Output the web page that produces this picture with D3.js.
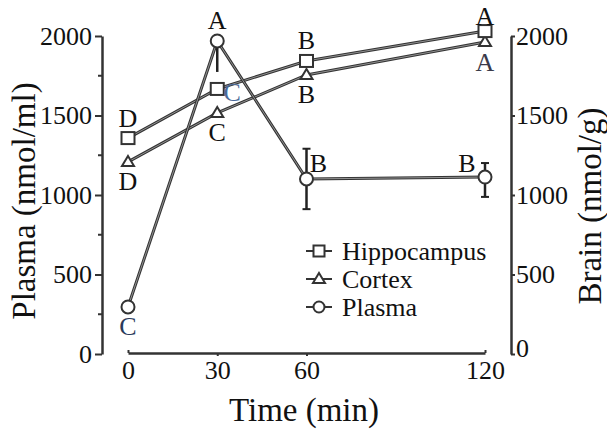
<!DOCTYPE html>
<html><head><meta charset="utf-8">
<script src="https://cdn.jsdelivr.net/npm/d3@7"></script>
<style>html,body{margin:0;padding:0;background:#fff}</style>
</head><body>
<svg id="c" width="607" height="432"></svg>
<script>
const times = [0, 30, 60, 120];
const xTicks = [0, 30, 60, 120];
const yTicks = [0, 500, 1000, 1500, 2000];
const yMinorTicks = [250, 750, 1250, 1750];
const hippocampus = [1358, 1667, 1843, 2031];
const cortex = [1208, 1516, 1755, 1962];
const plasma = [296, 1969, 1101, 1113];
const plasmaErrLow = [0, 195, 190, 125];
const plasmaErrHigh = [0, 0, 190, 88];
const hippoLetters = ["D", "C", "B", "A"];
const cortexLetters = ["D", "C", "B", "A"];
const plasmaLetters = ["C", "A", "B", "B"];
const hippoPlace = ["above", "right", "above", "aboveTight"];
const cortexPlace = ["below", "below", "below", "below"];
const plasmaPlace = ["below", "above", "upright", "upleft"];
const legendNames = ["Hippocampus", "Cortex", "Plasma"];

const FONT = '"Liberation Serif"';
const ink = "#222";
const svg = d3.select("#c");
const x = d3.scaleLinear().domain([0, 120]).range([128, 485]);
const yL = d3.scaleLinear().domain([0, 2000]).range([354, 36]);
const yR = d3.scaleLinear().domain([0, 2000]).range([354, 36]);
const fmt = d3.format("d");

// Left axis
const gL = svg.append("g").attr("transform", "translate(102,0)")
  .call(d3.axisLeft(yL).tickValues(yTicks).tickFormat(fmt).tickSize(7).tickSizeOuter(0).tickPadding(3));
gL.append("g").selectAll("line").data(yMinorTicks).join("line")
  .attr("x1", 0).attr("x2", -4).attr("y1", d => yL(d)).attr("y2", d => yL(d));
// Right axis
const gR = svg.append("g").attr("transform", "translate(511,0)")
  .call(d3.axisRight(yR).tickValues(yTicks).tickFormat(fmt).tickSize(4).tickSizeOuter(0).tickPadding(1));
// Bottom axis
const gB = svg.append("g").attr("transform", "translate(0,353)")
  .call(d3.axisBottom(x).tickValues(xTicks).tickFormat(fmt).tickSize(3).tickSizeOuter(0).tickPadding(5));
gB.selectAll(".tick line").attr("y2", d => (d === 0 || d === 120) ? -3 : 3);

[gL, gR, gB].forEach(g => {
  g.attr("font-family", null).attr("font-size", null);
  g.select(".domain").attr("stroke", "#333").attr("stroke-width", 2.5);
  g.selectAll("line").attr("stroke", "#333").attr("stroke-width", 2);
  g.selectAll("text").style("font-family", FONT).attr("font-size", 26).attr("fill", "#111");
});
gR.selectAll(".tick").filter(d => d === 0).select("text").attr("dy", "0.1em");

// Titles
svg.append("text").attr("transform", "translate(35,201) rotate(-90)")
  .attr("text-anchor", "middle").style("font-family", FONT).attr("font-size", 33).attr("fill", "#111")
  .text("Plasma (nmol/ml)");
svg.append("text").attr("transform", "translate(601,206) rotate(-90)")
  .attr("text-anchor", "middle").style("font-family", FONT).attr("font-size", 33).attr("fill", "#111")
  .text("Brain (nmol/g)");
svg.append("text").attr("x", 304).attr("y", 421)
  .attr("text-anchor", "middle").style("font-family", FONT).attr("font-size", 33).attr("fill", "#111")
  .text("Time (min)");

function drawLine(vals, scale) {
  const pts = times.map((t, i) => [x(t), scale(vals[i])]);
  const lg = d3.line();
  svg.append("path").attr("d", lg(pts)).attr("fill", "none").attr("stroke", "#333").attr("stroke-width", 3);
  svg.append("path").attr("d", lg(pts)).attr("fill", "none").attr("stroke", "#aaa").attr("stroke-width", 0.8);
}
drawLine(hippocampus, yR);
drawLine(cortex, yR);
drawLine(plasma, yL);

// Plasma error bars
times.forEach((t, i) => {
  const cx = x(t);
  const lo = plasma[i] - plasmaErrLow[i], hi = plasma[i] + plasmaErrHigh[i];
  if (plasmaErrLow[i] > 0) {
    svg.append("line").attr("x1", cx).attr("x2", cx).attr("y1", yL(plasma[i])).attr("y2", yL(lo)).attr("stroke", ink).attr("stroke-width", 2.5);
    if (plasmaErrHigh[i] > 0)
      svg.append("line").attr("x1", cx - 4).attr("x2", cx + 4).attr("y1", yL(lo)).attr("y2", yL(lo)).attr("stroke", ink).attr("stroke-width", 2);
  }
  if (plasmaErrHigh[i] > 0) {
    svg.append("line").attr("x1", cx).attr("x2", cx).attr("y1", yL(plasma[i])).attr("y2", yL(hi)).attr("stroke", ink).attr("stroke-width", 2.5);
    svg.append("line").attr("x1", cx - 4).attr("x2", cx + 4).attr("y1", yL(hi)).attr("y2", yL(hi)).attr("stroke", ink).attr("stroke-width", 2);
  }
});

const sym = {
  Hippocampus: (g) => g.append("rect").attr("x", -6.5).attr("y", -6).attr("width", 13).attr("height", 12),
  Cortex: (g) => g.append("path").attr("d", "M0,-6 L6,4 L-6,4 Z"),
  Plasma: (g) => g.append("circle").attr("r", 6.5)
};
function drawMarkers(vals, scale, name) {
  times.forEach((t, i) => {
    const g = svg.append("g").attr("transform", `translate(${x(t)},${scale(vals[i])})`);
    sym[name](g).attr("fill", "#fff").attr("stroke", "#333").attr("stroke-width", 2);
  });
}
drawMarkers(plasma, yL, "Plasma");
drawMarkers(cortex, yR, "Cortex");
drawMarkers(hippocampus, yR, "Hippocampus");

const offs = {above: [0, -20], aboveTight: [0, -15], below: [0, 20], right: [15, 4], upright: [12, -15], upleft: [-18, -14]};
function drawLetters(vals, scale, letters, place, colored) {
  times.forEach((t, i) => {
    const o = offs[place[i]];
    svg.append("text").attr("x", x(t) + o[0]).attr("y", scale(vals[i]) + o[1])
      .attr("text-anchor", "middle").attr("dominant-baseline", "central")
      .style("font-family", FONT).attr("font-size", 26)
      .attr("fill", colored[i] || "#111").text(letters[i]);
  });
}
drawLetters(hippocampus, yR, hippoLetters, hippoPlace, [null, "#4a6a9a", null, null]);
drawLetters(cortex, yR, cortexLetters, cortexPlace, [null, null, null, "#3a3a4a"]);
drawLetters(plasma, yL, plasmaLetters, plasmaPlace, ["#2a3a5a", null, null, null]);

// Legend
const legY = [251, 279, 307];
legendNames.forEach((n, i) => {
  const g = svg.append("g").attr("transform", `translate(319,${legY[i]})`);
  g.append("line").attr("x1", -13).attr("x2", 13).attr("stroke", "#333").attr("stroke-width", 2);
  const s = sym[n](g).attr("fill", "#fff").attr("stroke", "#333").attr("stroke-width", 2);
  if (n === "Hippocampus") s.attr("x", -5.5).attr("y", -5.5).attr("width", 11).attr("height", 11);
  if (n === "Plasma") s.attr("r", 5.5);
  g.append("text").attr("x", 23).attr("y", 0).attr("dominant-baseline", "central")
    .style("font-family", FONT).attr("font-size", 26).attr("fill", "#111").text(n);
});
</script>
</body></html>
